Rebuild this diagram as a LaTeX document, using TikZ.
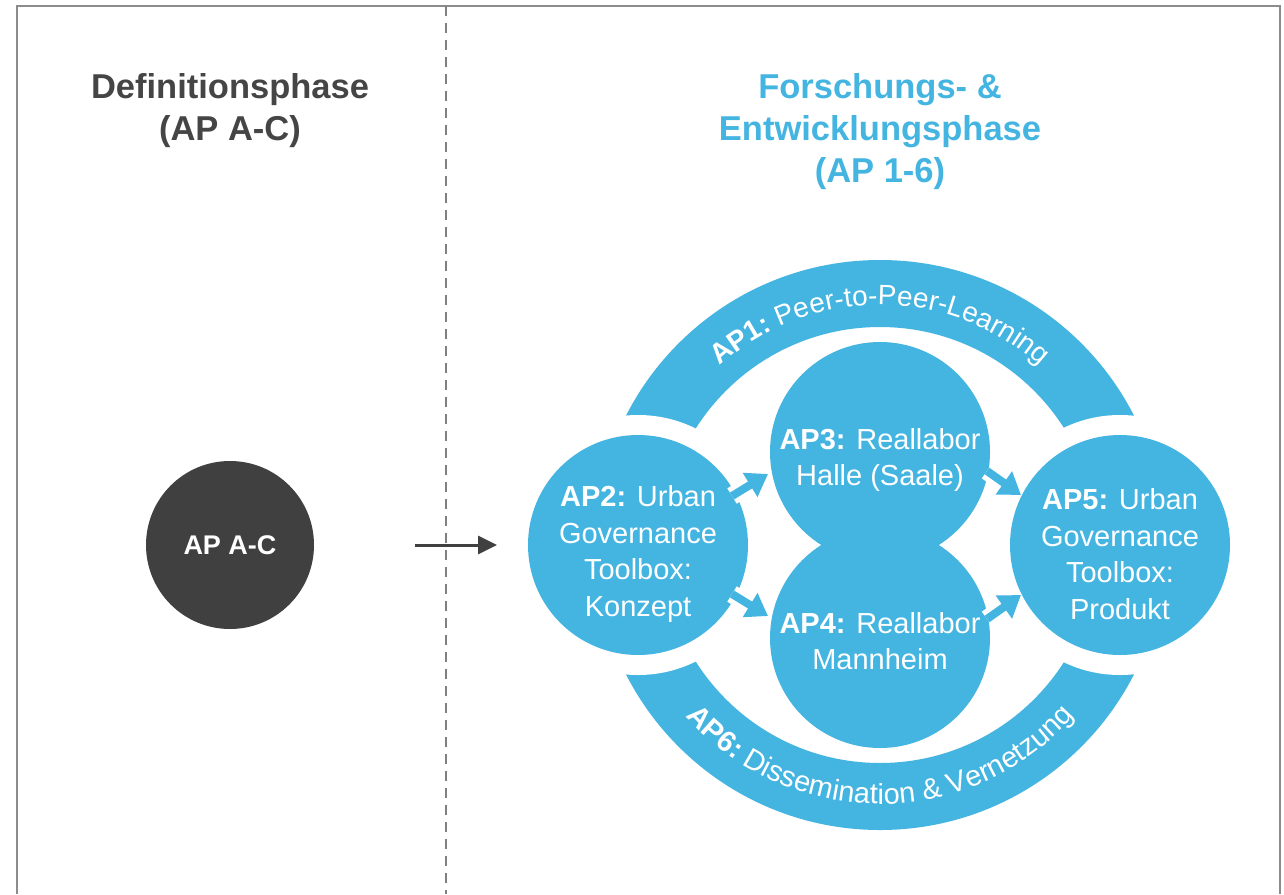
\documentclass[tikz,border=0pt]{standalone}
\usepackage{fontspec}
\setmainfont{Liberation Sans}
\usetikzlibrary{arrows.meta,decorations.text}
\definecolor{apblue}{HTML}{44B4E1}
\definecolor{apdark}{HTML}{404040}
\definecolor{titlegray}{HTML}{454545}
\definecolor{framegray}{HTML}{8C8C8C}
\begin{document}
\begin{tikzpicture}[x=1pt,y=-1pt,
  apcircle/.style={circle, fill=apblue, inner sep=0pt, minimum size=220pt},
  gapdisk/.style={circle, fill=white, inner sep=0pt, minimum size=260pt},
  lbl/.style={text=white, align=center, font=\fontsize{29}{36.5}\selectfont},
  titlestyle/.style={align=center, font=\bfseries\fontsize{34.5}{42}\selectfont},
  smallarrow/.style={draw=apblue, line width=8pt, -{Triangle[length=21pt,width=27pt]}},
  arrowhalo/.style={draw=white, line width=18pt, shorten >=18pt},
  darrow/.style={draw=apdark, line width=3pt, -{Triangle[length=19pt,width=18pt]}},
]
\useasboundingbox (0,0) rectangle (1284,894);
\fill[white] (0,0) rectangle (1284,894);
% frame
\coordinate (f1) at (17,894); \coordinate (f2) at (17,6);
\coordinate (f3) at (1280,6); \coordinate (f4) at (1280,894);
\draw[framegray, line width=2pt] (f1) -- (f2) -- (f3) -- (f4);
% dashed separator
\coordinate (d1) at (446,6); \coordinate (d2) at (446,894);
\draw[gray, line width=1.8pt, dash pattern=on 10pt off 7pt] (d1) -- (d2);
% titles
\node[titlestyle, text=titlegray] (t1) at (230,111) {Definitionsphase\\(AP A-C)};
\node[titlestyle, text=apblue] (t2) at (880,132) {Forschungs- \&\\Entwicklungsphase\\(AP 1-6)};
% AP A-C
\node[circle, fill=apdark, inner sep=0pt, minimum size=168pt, text=white,
      font=\bfseries\fontsize{27}{32}\selectfont] (apac) at (230,545) {AP A-C};
\coordinate (b1) at (415,545); \coordinate (b2) at (497,545);
\draw[darrow] (b1) -- (b2);
% ring
\coordinate (c) at (880,545);
\fill[apblue, even odd rule] (c) circle (285pt) (c) circle (218pt);
% ring labels
\path[decorate, decoration={text along path, text align=center, text color=white,
  text={|\fontsize{28}{28}\selectfont\bfseries|AP1:|\fontsize{28}{28}\selectfont\mdseries| Peer-to-Peer-Learning}}]
  (c) ++(150:240pt) arc[start angle=150, end angle=30, radius=240pt];
\path[decorate, decoration={text along path, text align=center, text color=white,
  text={|\fontsize{29}{29}\selectfont\bfseries|AP6:|\fontsize{29}{29}\selectfont\mdseries| Dissemination {\&} Vernetzung}}]
  (c) ++(205:259pt) arc[start angle=205, end angle=335, radius=259pt];
% inner circles
\node[apcircle] (ap3) at (880,452) {};
\node[apcircle] (ap4) at (880,638) {};
\node[gapdisk] (g2) at (638,545) {};
\node[gapdisk] (g5) at (1120,545) {};
\node[apcircle] (ap2) at (638,545) {};
\node[apcircle] (ap5) at (1120,545) {};
% labels
\node[lbl] (ap2t) at (638,554) {\textbf{AP2:} Urban\\Governance\\Toolbox:\\Konzept};
\node[lbl] (ap5t) at (1120,554) {\textbf{AP5:} Urban\\Governance\\Toolbox:\\Produkt};
\node[lbl] (ap3t) at (880,460) {\textbf{AP3:} Reallabor\\Halle (Saale)};
\node[lbl] (ap4t) at (880,641) {\textbf{AP4:} Reallabor\\Mannheim};
% small arrows
\coordinate (a1s) at (732,496); \coordinate (a1e) at (768,474);
\coordinate (a2s) at (732,594); \coordinate (a2e) at (768,616);
\coordinate (a3s) at (987,471); \coordinate (a3e) at (1021,495);
\coordinate (a4s) at (987,619); \coordinate (a4e) at (1021,595);
\foreach \s/\e in {a1s/a1e,a2s/a2e,a3s/a3e,a4s/a4e}{
  \draw[arrowhalo] (\s) -- (\e);
  \draw[smallarrow] (\s) -- (\e);
}
\end{tikzpicture}
\end{document}
